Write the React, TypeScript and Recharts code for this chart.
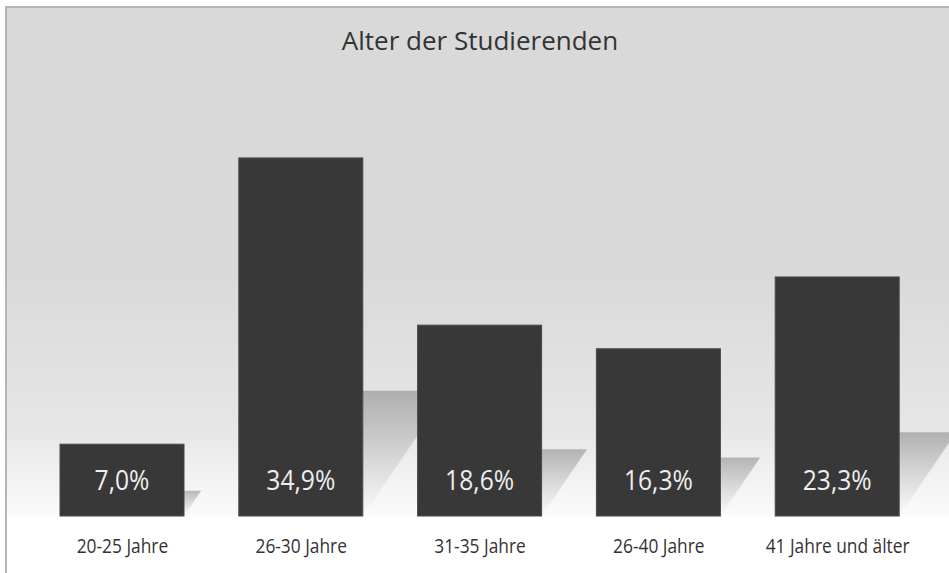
import React from "react";
import { BarChart, Bar, XAxis, YAxis, LabelList } from "recharts";

const categories = ["20-25 Jahre", "26-30 Jahre", "31-35 Jahre", "26-40 Jahre", "41 Jahre und älter"];
const values = [7.0, 34.9, 18.6, 16.3, 23.3];
const valueLabels = ["7,0%", "34,9%", "18,6%", "16,3%", "23,3%"];
const title = "Alter der Studierenden";

const data = categories.map((c, i) => ({ name: c, value: values[i], label: valueLabels[i] }));

const FONT = "'Open Sans', 'DejaVu Sans', sans-serif";

const ShadowBar = (props: any) => {
  const { x, y, width, height } = props;
  const base = y + height;
  const hs = height * 0.35;
  const w = hs * 0.68;
  const rx = x + width;
  return (
    <g>
      <polygon
        points={`${rx},${base - hs} ${rx + w},${base - hs} ${rx},${base}`}
        fill="url(#shadowGrad)"
      />
      <rect x={x} y={y} width={width} height={height} fill="#383838" stroke="#4a4a4a" strokeWidth={1} />
    </g>
  );
};

const ValueLabel = (props: any) => {
  const { x, y, width, height, value } = props;
  const base = y + height;
  return (
    <g transform={`translate(${x + width / 2},${base - 36}) scale(0.93,1)`}>
      <text
        x={0}
        y={0}
        textAnchor="middle"
        dominantBaseline="central"
        fill="#eeeeee"
        fontFamily={FONT}
        fontSize={26.5}
      >
        {value}
      </text>
    </g>
  );
};

const Tick = (props: any) => {
  const { x, y, payload } = props;
  return (
    <g transform={`translate(${x},${y + 29}) scale(0.89,1)`}>
      <text x={0} y={0} textAnchor="middle" fill="#333333" fontFamily={FONT} fontSize={19.5}>
        {payload.value}
      </text>
    </g>
  );
};

export default function App() {
  return (
    <div style={{ position: "absolute", left: 0, top: 0, width: 949, height: 573, background: "#fff" }}>
      <div
        style={{
          position: "absolute",
          left: 5,
          top: 6,
          width: 944,
          height: 567,
          boxSizing: "border-box",
          borderLeft: "2px solid #b5b5b5",
          borderTop: "2px solid #b5b5b5",
          background:
            "linear-gradient(to bottom, #d9d9d9 0px, #d9d9d9 260px, #e6e6e6 420px, #fafafa 505px, #ffffff 510px, #ffffff 567px)",
        }}
      />
      <div
        style={{
          position: "absolute",
          left: 0,
          top: 22,
          width: 960,
          textAlign: "center",
          fontFamily: FONT,
          fontSize: 26,
          color: "#333333",
        }}
      >
        {title}
      </div>
      <div style={{ position: "absolute", left: 0, top: 0 }}>
        <BarChart
          width={949}
          height={573}
          data={data}
          margin={{ top: 105.6, right: 22, left: 33, bottom: 0 }}
          barCategoryGap={27.4}
        >
          <defs>
            <linearGradient id="shadowGrad" x1="0" y1="0" x2="0" y2="1">
              <stop offset="0%" stopColor="#7a7a7a" stopOpacity={0.5} />
              <stop offset="100%" stopColor="#9a9a9a" stopOpacity={0} />
            </linearGradient>
          </defs>
          <XAxis dataKey="name" axisLine={false} tickLine={false} height={57} tick={<Tick />} interval={0} />
          <YAxis hide domain={[0, 40]} />
          <Bar dataKey="value" barSize={124} shape={<ShadowBar />} isAnimationActive={false}>
            <LabelList dataKey="label" content={<ValueLabel />} />
          </Bar>
        </BarChart>
      </div>
    </div>
  );
}
